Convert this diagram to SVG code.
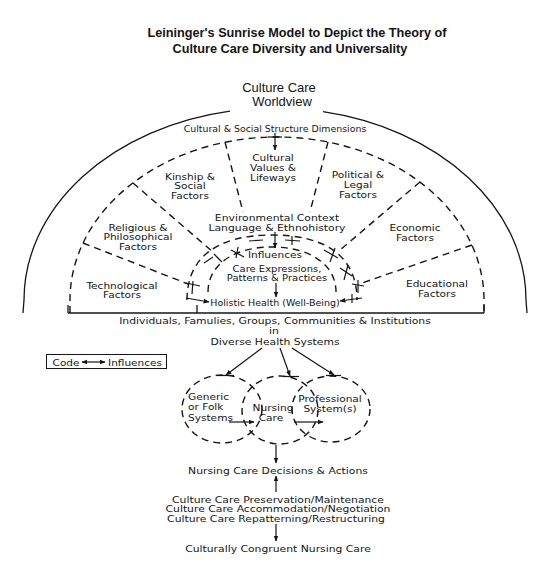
<svg xmlns="http://www.w3.org/2000/svg" width="550" height="574" viewBox="0 0 550 574">
<style>
.ln{stroke:#151515;stroke-width:1.3;fill:none}
.ds{stroke:#151515;stroke-width:1.4;fill:none;stroke-dasharray:7 5}
.tk{stroke:#151515;stroke-width:1.2;fill:none}
text{font-family:"DejaVu Sans",sans-serif;fill:#151515;text-anchor:middle;transform-box:fill-box;transform-origin:50% 75%;transform:scaleY(0.84)}
.s{font-size:10.6px}
.m{font-size:10.8px}
.t{font-family:"Liberation Sans",Arial,sans-serif;font-weight:bold;font-size:12.7px;transform:none}
.w{font-family:"Liberation Sans",Arial,sans-serif;font-size:13px;transform:none}
</style>
<defs>
<marker id="ah" viewBox="0 0 10 10" refX="9" refY="5" markerWidth="6" markerHeight="6" markerUnits="userSpaceOnUse" orient="auto-start-reverse"><path d="M0,1 L10,5 L0,9 z" fill="#151515"/></marker>
</defs>
<rect width="550" height="574" fill="#fff"/>

<g id="title">
<text class="t" x="297" y="37">Leininger's Sunrise Model to Depict the Theory of</text>
<text class="t" x="290" y="52.5">Culture Care Diversity and Universality</text>
</g>

<g id="worldview">
<text class="w" x="279" y="92">Culture Care</text>
<text class="w" x="282" y="106">Worldview</text>
<path class="ln" d="M23 313 L24 300 A251 192 0 0 1 230 111.1"/>
<path class="ln" d="M323 111.6 A251 192 0 0 1 526 300 L527 313"/>
</g>

<g id="structure">
<path class="ds" d="M70 313 L70 300 A207 163 0 0 1 484 300 L484 313"/>
<line class="ln" x1="68" y1="313" x2="484" y2="313"/>
<line class="ln" x1="68" y1="305" x2="68" y2="313"/>
<line class="ln" x1="197" y1="305" x2="197" y2="313"/>
<line class="ln" x1="484" y1="305" x2="484" y2="313"/>
<text x="275" y="132" style="font-size:9.4px">Cultural &amp; Social Structure Dimensions</text>
</g>

<g id="sector-technological"><text class="s" x="122" y="289">Technological</text><text class="s" x="122" y="298.5">Factors</text></g>
<g id="sector-religious"><text class="s" x="138" y="231">Religious &amp;</text><text class="s" x="138" y="240.5">Philosophical</text><text class="s" x="138" y="250">Factors</text></g>
<g id="sector-kinship"><text class="s" x="190" y="180">Kinship &amp;</text><text class="s" x="190" y="189.5">Social</text><text class="s" x="190" y="199">Factors</text></g>
<g id="sector-cultural-values"><text class="s" x="273" y="161">Cultural</text><text class="s" x="273" y="171">Values &amp;</text><text class="s" x="273" y="181">Lifeways</text></g>
<g id="sector-political"><text class="s" x="358" y="178">Political &amp;</text><text class="s" x="358" y="188">Legal</text><text class="s" x="358" y="198">Factors</text></g>
<g id="sector-economic"><text class="s" x="415" y="231">Economic</text><text class="s" x="415" y="241">Factors</text></g>
<g id="sector-educational"><text class="s" x="437" y="287">Educational</text><text class="s" x="437" y="297">Factors</text></g>

<g id="environmental-context"><text class="m" x="277" y="221">Environmental Context</text><text class="m" x="277" y="231">Language &amp; Ethnohistory</text></g>

<g id="inner">
<path class="ds" d="M187 300 C187 257.75 216.75 235 272 235 C327.25 235 357 257.75 357 300"/>
<path class="ds" d="M208 292 C208 265 233.6 247 272 247 C310.4 247 336 265 336 292"/>
<text x="275" y="258" style="font-size:10.6px">Influences</text>
<text x="277" y="272" style="font-size:10px">Care Expressions,</text>
<text x="277" y="281.5" style="font-size:10px">Patterns &amp; Practices</text>
<text x="275" y="306" style="font-size:9.5px">Holistic Health (Well-Being)</text>
</g>

<g id="population">
<text class="m" x="275" y="324">Individuals, Famulies, Groups, Communities &amp; Institutions</text>
<text class="m" x="274" y="334.5">in</text>
<text class="m" x="275" y="345">Diverse Health Systems</text>
</g>

<g id="code-legend">
<rect x="46.5" y="354.5" width="120" height="14" fill="none" stroke="#151515" stroke-width="1"/>
<text x="66" y="366" style="font-size:10.5px">Code</text>
<text x="135" y="366" style="font-size:10.5px">Influences</text>
<line class="tk" x1="82" y1="362" x2="105" y2="362" marker-start="url(#ah)" marker-end="url(#ah)"/>
</g>

<g id="generic-folk-systems">
<ellipse class="ds" cx="222" cy="409" rx="40" ry="34"/>
<text class="s" x="188" y="400" style="text-anchor:start">Generic</text>
<text class="s" x="188" y="410.5" style="text-anchor:start">or Folk</text>
<text class="s" x="188" y="421" style="text-anchor:start">Systems</text>
</g>
<g id="nursing-care">
<ellipse class="ds" cx="280" cy="410" rx="38" ry="34"/>
<text class="s" x="273" y="411">Nursing</text>
<text class="s" x="271" y="421">Care</text>
</g>
<g id="professional-systems">
<ellipse class="ds" cx="331" cy="409" rx="39" ry="33"/>
<text class="s" x="330" y="402">Professional</text>
<text class="s" x="330" y="412">System(s)</text>
</g>

<g id="decisions"><text class="m" x="278" y="474">Nursing Care Decisions &amp; Actions</text></g>
<g id="modes">
<text class="m" x="278" y="503">Culture Care Preservation/Maintenance</text>
<text class="m" x="278" y="512.5">Culture Care Accommodation/Negotiation</text>
<text class="m" x="276" y="522">Culture Care Repatterning/Restructuring</text>
</g>
<g id="outcome"><text class="m" x="278" y="552">Culturally Congruent Nursing Care</text></g>

<g id="connectors">
<line class="ds" x1="83" y1="243" x2="188" y2="284"/>
<line class="ds" x1="133" y1="183" x2="213" y2="252"/>
<line class="ds" x1="225" y1="142" x2="243" y2="212"/>
<line class="ds" x1="328" y1="142" x2="310" y2="212"/>
<line class="ds" x1="420" y1="182" x2="340" y2="250"/>
<line class="ds" x1="472" y1="245" x2="362" y2="283"/>
<line class="tk" x1="275" y1="133" x2="275" y2="150" marker-end="url(#ah)"/>
<line class="tk" x1="268" y1="137" x2="282" y2="137"/>
<line class="tk" x1="275" y1="232" x2="275" y2="248" marker-end="url(#ah)"/>
<line class="tk" x1="276" y1="283" x2="276" y2="297" marker-end="url(#ah)"/>
<line class="tk" x1="186" y1="298" x2="209" y2="302" marker-end="url(#ah)"/>
<line class="tk" x1="362" y1="298" x2="340" y2="301" marker-end="url(#ah)"/>
<line class="tk" x1="352" y1="294" x2="352" y2="303"/>
<line class="tk" x1="193" y1="281" x2="192" y2="294"/>
<line class="tk" x1="186" y1="283" x2="200" y2="286"/>
<line class="tk" x1="204" y1="263" x2="213" y2="257"/>
<line class="tk" x1="214" y1="254" x2="222" y2="262"/>
<line class="tk" x1="231" y1="250" x2="244" y2="257"/>
<line class="tk" x1="238" y1="247" x2="236" y2="258"/>
<line class="tk" x1="249" y1="241" x2="263" y2="240"/>
<line class="tk" x1="285" y1="240" x2="300" y2="241"/>
<line class="tk" x1="292" y1="236" x2="292" y2="245"/>
<line class="tk" x1="324" y1="250" x2="338" y2="258"/>
<line class="tk" x1="335" y1="248" x2="330" y2="262"/>
<line class="tk" x1="340" y1="268" x2="352" y2="276"/>
<line class="tk" x1="348" y1="265" x2="344" y2="280"/>
<line class="tk" x1="352" y1="284" x2="364" y2="286"/>
<line class="tk" x1="358" y1="280" x2="358" y2="293"/>
<line class="tk" x1="262" y1="348" x2="226" y2="375" marker-end="url(#ah)"/>
<line class="tk" x1="280" y1="348" x2="290" y2="376" marker-end="url(#ah)"/>
<line class="tk" x1="292" y1="348" x2="334" y2="375" marker-end="url(#ah)"/>
<line class="tk" x1="216" y1="375.5" x2="234" y2="375.5"/>
<line class="tk" x1="283" y1="376.5" x2="299" y2="376.5"/>
<line class="tk" x1="326" y1="375.5" x2="341" y2="375.5"/>
<line class="tk" x1="229" y1="422" x2="254" y2="422" marker-end="url(#ah)"/>
<line class="tk" x1="294" y1="422" x2="323" y2="422" marker-end="url(#ah)"/>
<line class="tk" x1="276" y1="445" x2="276" y2="463" marker-end="url(#ah)"/>
<line class="tk" x1="276" y1="492" x2="276" y2="476" marker-end="url(#ah)"/>
<line class="tk" x1="276" y1="524" x2="276" y2="541" marker-end="url(#ah)"/>
</g>
</svg>
